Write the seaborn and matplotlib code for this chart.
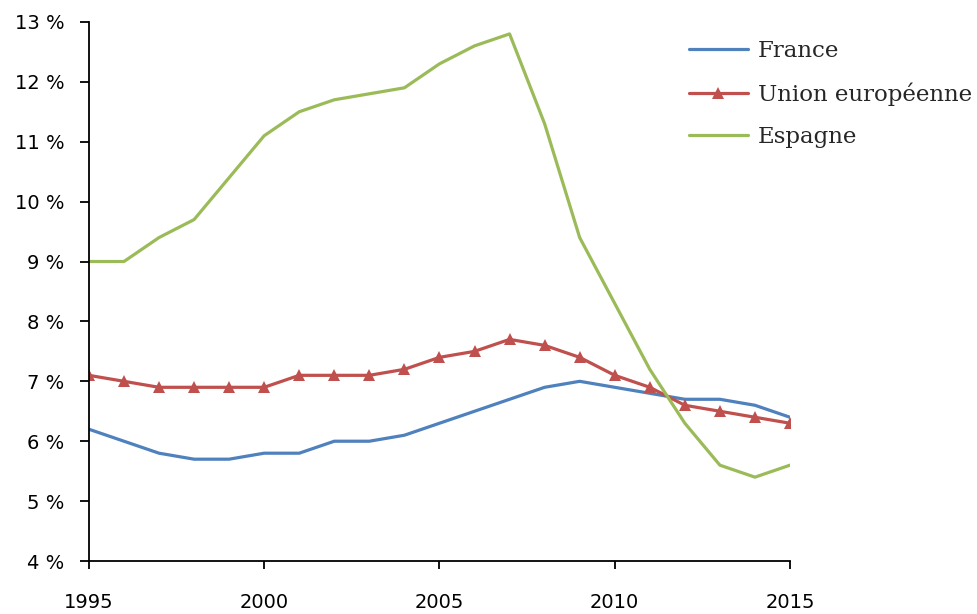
import matplotlib
matplotlib.use("Agg")
import matplotlib.pyplot as plt
import seaborn as sns
import pandas as pd

years = list(range(1995, 2016))
france = [6.2, 6.0, 5.8, 5.7, 5.7, 5.8, 5.8, 6.0, 6.0, 6.1, 6.3, 6.5, 6.7, 6.9, 7.0, 6.9, 6.8, 6.7, 6.7, 6.6, 6.4]
ue = [7.1, 7.0, 6.9, 6.9, 6.9, 6.9, 7.1, 7.1, 7.1, 7.2, 7.4, 7.5, 7.7, 7.6, 7.4, 7.1, 6.9, 6.6, 6.5, 6.4, 6.3]
espagne = [9.0, 9.0, 9.4, 9.7, 10.4, 11.1, 11.5, 11.7, 11.8, 11.9, 12.3, 12.6, 12.8, 11.3, 9.4, 8.3, 7.2, 6.3, 5.6, 5.4, 5.6]
series_names = ["France", "Union européenne", "Espagne"]
y_ticks = [4, 5, 6, 7, 8, 9, 10, 11, 12, 13]
x_ticks = [1995, 2000, 2005, 2010, 2015]

sns.set_style("white")
plt.rcParams['font.family'] = ['DejaVu Sans']

fig = plt.figure(figsize=(9.77, 6.14), dpi=100)
ax = fig.add_axes([0.091, 0.0863, 0.7176, 0.878])

colors = ["#4F81BD", "#C0504D", "#9BBB59"]
markers = [None, "^", None]
for name, vals, c, m in zip(series_names, [france, ue, espagne], colors, markers):
    sns.lineplot(x=years, y=vals, color=c, marker=m, linewidth=2.3,
                 markersize=8, markeredgewidth=0, label=name, ax=ax)

ax.set_xlim(1995, 2015)
ax.set_ylim(4, 13)
ax.set_xticks(x_ticks)
ax.set_xticklabels([str(x) for x in x_ticks])
ax.set_yticks(y_ticks)
ax.set_yticklabels([f"{y} %" for y in y_ticks])
ax.set_xlabel("")
ax.set_ylabel("")
for s in ["top", "right"]:
    ax.spines[s].set_visible(False)
for s in ["left", "bottom"]:
    ax.spines[s].set_color("black")
    ax.spines[s].set_linewidth(1.3)
ax.tick_params(axis="y", direction="out", length=6.5, width=1.3, pad=11, labelsize=14, colors="black", left=True)
ax.tick_params(axis="x", direction="out", length=6, width=1.3, pad=17, labelsize=14, colors="black", bottom=True)
ax.grid(False)

leg = ax.legend(loc="upper left", bbox_to_anchor=(0.843, 0.983), frameon=False,
                prop={"family": "DejaVu Serif", "size": 16.5}, handlelength=2.55,
                labelspacing=0.88, handletextpad=0.45, borderaxespad=0)
for sp in [ax.spines["left"], ax.spines["bottom"]]:
    sp.set_clip_on(False)
fig.savefig("out.png", dpi=100)
